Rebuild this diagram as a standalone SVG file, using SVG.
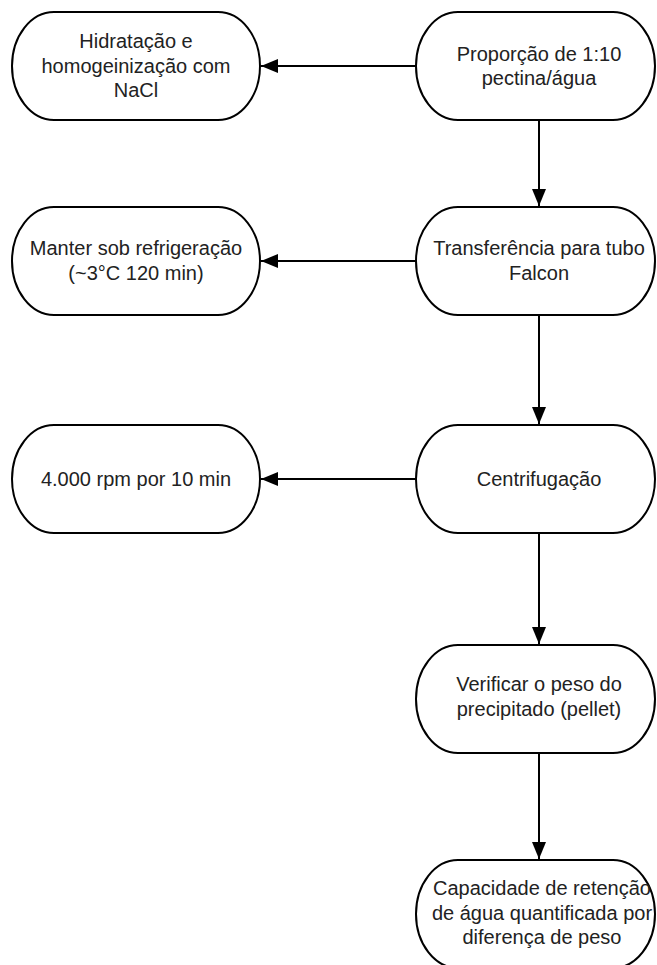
<svg xmlns="http://www.w3.org/2000/svg" width="657" height="965" viewBox="0 0 657 965">
  <style>
    .node rect { fill: #ffffff; stroke: #000000; stroke-width: 2; }
    .node text { font-family: "Liberation Sans", Arial, sans-serif; font-size: 20px; fill: #222222; text-anchor: middle; }
    .conn line { stroke: #000000; stroke-width: 2; fill: none; marker-end: url(#arrow); }
  </style>
  <defs>
    <marker id="arrow" markerUnits="userSpaceOnUse" markerWidth="18" markerHeight="14" refX="17" refY="7" orient="auto">
      <path d="M0,0 L17,7 L0,14 Z" fill="#000000"/>
    </marker>
  </defs>
  <rect width="657" height="965" fill="#ffffff"/>

  <g class="conn" id="connectors">
    <line x1="416" y1="66" x2="261" y2="66"/>
    <line x1="539" y1="120" x2="539" y2="206"/>
    <line x1="416" y1="261" x2="261" y2="261"/>
    <line x1="539" y1="315" x2="539" y2="424"/>
    <line x1="416" y1="479" x2="261" y2="479"/>
    <line x1="539" y1="533" x2="539" y2="644"/>
    <line x1="539" y1="753" x2="539" y2="859"/>
  </g>

  <g class="node" id="n-hidratacao">
    <rect x="12" y="12" width="248" height="108" rx="42" ry="54"/>
    <text x="136" y="48">Hidratação e</text>
    <text x="136" y="72.5">homogeinização com</text>
    <text x="136" y="97">NaCl</text>
  </g>
  <g class="node" id="n-proporcao">
    <rect x="416" y="12" width="239" height="108" rx="42" ry="54"/>
    <text x="539" y="60.5">Proporção de 1:10</text>
    <text x="539" y="85">pectina/água</text>
  </g>
  <g class="node" id="n-manter">
    <rect x="12" y="207" width="248" height="108" rx="42" ry="54"/>
    <text x="136" y="255">Manter sob refrigeração</text>
    <text x="136" y="279.5">(~3°C 120 min)</text>
  </g>
  <g class="node" id="n-transferencia">
    <rect x="416" y="207" width="239" height="108" rx="42" ry="54"/>
    <text x="539" y="255">Transferência para tubo</text>
    <text x="539" y="279.5">Falcon</text>
  </g>
  <g class="node" id="n-rpm">
    <rect x="12" y="425" width="248" height="108" rx="42" ry="54"/>
    <text x="136" y="486">4.000 rpm por 10 min</text>
  </g>
  <g class="node" id="n-centrifugacao">
    <rect x="416" y="425" width="239" height="108" rx="42" ry="54"/>
    <text x="539" y="486">Centrifugação</text>
  </g>
  <g class="node" id="n-verificar">
    <rect x="416" y="645" width="239" height="108" rx="42" ry="54"/>
    <text x="539" y="691">Verificar o peso do</text>
    <text x="539" y="715.5">precipitado (pellet)</text>
  </g>
  <g class="node" id="n-capacidade">
    <rect x="416" y="860" width="239" height="108" rx="42" ry="54"/>
    <text x="542" y="895">Capacidade de retenção</text>
    <text x="542" y="919.5">de água quantificada por</text>
    <text x="542" y="944">diferença de peso</text>
  </g>
</svg>
